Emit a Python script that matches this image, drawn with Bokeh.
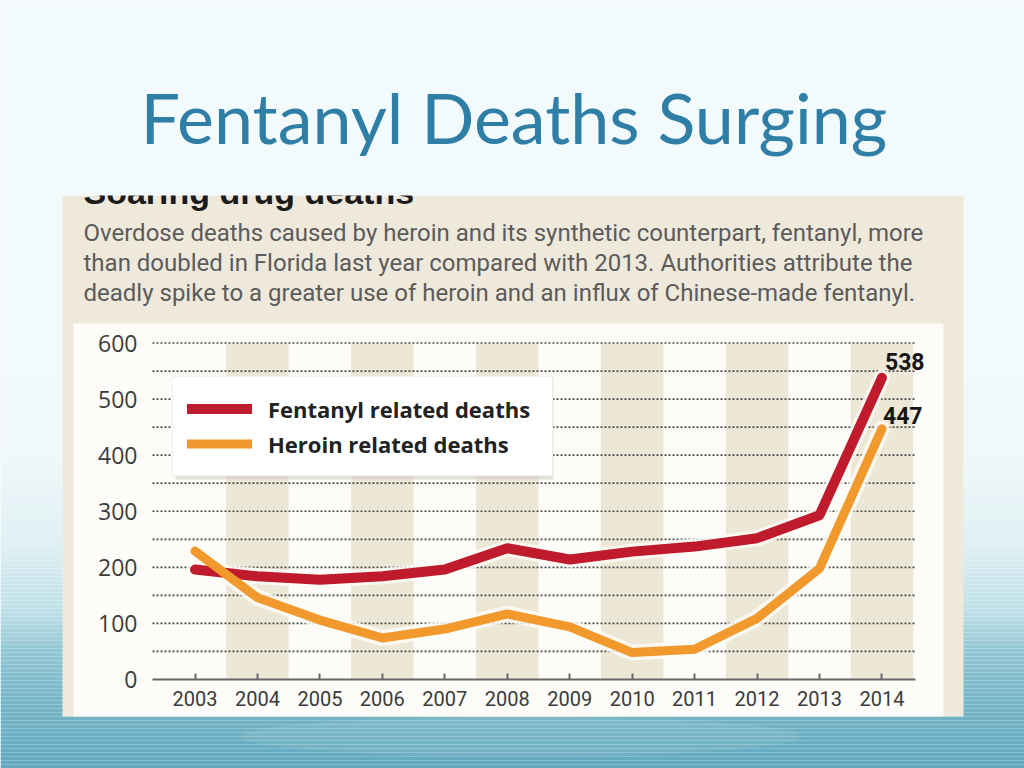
from bokeh.plotting import figure
from bokeh.models import Range1d, LinearAxis, FixedTicker, Legend, LegendItem
from bokeh.core.properties import value
from bokeh.embed import file_html
from bokeh.resources import INLINE

# ---------------- data ----------------
years = [2003, 2004, 2005, 2006, 2007, 2008, 2009, 2010, 2011, 2012, 2013, 2014]
fentanyl = [196, 184, 178, 184, 196, 234, 214, 228, 237, 252, 293, 538]
heroin = [229, 146, 106, 74, 90, 117, 94, 48, 54, 109, 198, 447]
y_ticks = [0, 100, 200, 300, 400, 500, 600]
grid_levels = [50, 100, 150, 200, 250, 300, 350, 400, 450, 500, 550, 600]
band_years = years[1::2]
legend_labels = ["Fentanyl related deaths", "Heroin related deaths"]
end_labels = [str(fentanyl[-1]), str(heroin[-1])]
slide_title = "Fentanyl Deaths Surging"
heading = "Soaring drug deaths"
subtitle_lines = [
    "Overdose deaths caused by heroin and its synthetic counterpart, fentanyl, more",
    "than doubled in Florida last year compared with 2013. Authorities attribute the",
    "deadly spike to a greater use of heroin and an influx of Chinese-made fentanyl.",
]

# ---------------- geometry ----------------
W, H = 1024, 768
PX_PER_YEAR = 62.45
X_START = 2003 - 194.5 / PX_PER_YEAR
PX_PER_UNIT = 0.5608
Y_START = 0 - (H - 679) / PX_PER_UNIT
GX0 = X_START + 152 / PX_PER_YEAR
GX1 = X_START + 915 / PX_PER_YEAR
BL = 0.37  # baseline correction (em) for text glyphs in svg output

p = figure(width=W, height=H, output_backend="svg", toolbar_location=None,
           x_range=Range1d(X_START, X_START + W / PX_PER_YEAR),
           y_range=Range1d(Y_START, Y_START + H / PX_PER_UNIT),
           x_axis_type=None, y_axis_type=None, min_border=0)
p.outline_line_color = None
p.background_fill_color = "#f3fafc"
p.border_fill_color = "#f3fafc"
p.extra_x_ranges = {"px": Range1d(0, W)}
p.extra_y_ranges = {"py": Range1d(H, 0)}


def box(x0, y0, x1, y1, color, alpha=1.0):
    p.quad(left=[x0], right=[x1], top=[y0], bottom=[y1],
           x_range_name="px", y_range_name="py",
           fill_color=color, fill_alpha=alpha, line_color=None)


def label(x, ys, texts, size, font, color, style="normal"):
    p.text(x=[x] * len(ys), y=[y - BL * size for y in ys], text=texts,
           text_font=value(font), text_font_style=style, text_font_size=f"{size}px",
           text_color=color, text_baseline="alphabetic",
           x_range_name="px", y_range_name="py")


def hex2rgb(h):
    h = h.lstrip("#")
    return tuple(int(h[i:i + 2], 16) for i in (0, 2, 4))


stops = [(0, "#f3fafc"), (450, "#f0f8fa"), (540, "#e0f0f4"), (610, "#bfe0e8"),
         (650, "#92c6d4"), (700, "#78b6c8"), (768, "#62a8be")]


def grad(y):
    for (ya, ca), (yb, cb) in zip(stops[:-1], stops[1:]):
        if ya <= y <= yb:
            t = (y - ya) / (yb - ya)
            a, b = hex2rgb(ca), hex2rgb(cb)
            return "#%02x%02x%02x" % tuple(int(round(a[i] + (b[i] - a[i]) * t)) for i in range(3))
    return stops[-1][1]


# slide background gradient
lefts, rights, tops, bottoms, cols = [], [], [], [], []
for y in range(380, 772, 4):
    lefts.append(0)
    rights.append(W)
    tops.append(y)
    bottoms.append(y + 4)
    cols.append(grad(y + 2))
p.quad(left=lefts, right=rights, top=tops, bottom=bottoms, fill_color=cols,
       line_color=None, x_range_name="px", y_range_name="py")
p.ellipse(x=[520], y=[736], width=560, height=40, fill_color="#ffffff",
          fill_alpha=0.08, line_color=None, x_range_name="px", y_range_name="py")

# embedded newspaper graphic (heading cut off at its top, as in the source slide)
box(62, 195, 963, 716, "#efe9dc")
label(83, [204], [heading], 34, "Liberation Sans", "#1b1b1b", "bold")
box(62, 160, 963, 195, "#f3fafc")
label(83, [241, 271, 301], subtitle_lines, 24, "Roboto", "#5b5b5b")
box(73, 323, 943, 716, "#fdfcf8")

# slide title
label(140, [142], [slide_title], 70, "Lato", "#2f7ea6")

# chart: bands, grid
p.vbar(x=band_years, width=1.0, top=600, bottom=0, fill_color="#ede7d6", line_color=None)
p.segment(x0=GX0, x1=GX1, y0=grid_levels, y1=grid_levels, line_color="#4d4d4d",
          line_width=1.7, line_dash="2 2")

# halos and lines
p.line(years, heroin, line_color="#fdfcf8", line_width=16, line_alpha=0.8,
       line_join="round", line_cap="round")
p.line(years, fentanyl, line_color="#fdfcf8", line_width=16, line_alpha=0.8,
       line_join="round", line_cap="round")
r_f = p.line(years, fentanyl, line_color="#c01b2c", line_width=10,
             line_join="round", line_cap="round")
r_h = p.line(years, heroin, line_color="#f2992e", line_width=9,
             line_join="round", line_cap="round")

p.text(x=[years[-1]], y=[fentanyl[-1]], text=[end_labels[0]], x_offset=3,
       y_offset=-8 - BL * 23,
       text_font=value("Roboto"), text_font_style="bold",
       text_font_size="23px", text_color="#151515", text_baseline="alphabetic")
p.text(x=[years[-1]], y=[heroin[-1]], text=[end_labels[1]], x_offset=1,
       y_offset=-5 - BL * 23,
       text_font=value("Roboto"), text_font_style="bold",
       text_font_size="23px", text_color="#151515", text_baseline="alphabetic")

# axes drawn inside the frame
xaxis = LinearAxis(fixed_location=0, ticker=FixedTicker(ticks=years), bounds=(GX0, GX1),
                   axis_line_color="#666666", axis_line_width=2,
                   major_tick_in=6, major_tick_out=0, major_tick_line_color="#666666",
                   major_tick_line_width=2, minor_tick_line_color=None,
                   major_label_standoff=11,
                   major_label_text_font="Roboto",
                   major_label_text_font_size="20px", major_label_text_color="#3a3a3a")
p.add_layout(xaxis, "below")
yaxis = LinearAxis(fixed_location=GX0, ticker=FixedTicker(ticks=y_ticks),
                   axis_line_color=None, major_tick_line_color=None,
                   minor_tick_line_color=None, major_label_standoff=9,
                   major_label_text_font="Open Sans",
                   major_label_text_font_size="23px", major_label_text_color="#3c3c3c")
p.add_layout(yaxis, "left")

# legend with shadow
box(175, 381, 553, 479, "#d3cec4", 0.6)
legend = Legend(items=[LegendItem(label=legend_labels[0], renderers=[r_f]),
                       LegendItem(label=legend_labels[1], renderers=[r_h])],
                location=(172, H - 476),
                background_fill_color="#ffffff", background_fill_alpha=1.0,
                border_line_color="#e2e2e2", padding=14, spacing=0, margin=0,
                glyph_width=65, glyph_height=35, label_standoff=16, label_width=270,
                label_text_font="Open Sans", label_text_font_style="bold",
                label_text_font_size="22px", label_text_color="#222222")
p.add_layout(legend)

open("out.html", "w").write(file_html(p, INLINE))
